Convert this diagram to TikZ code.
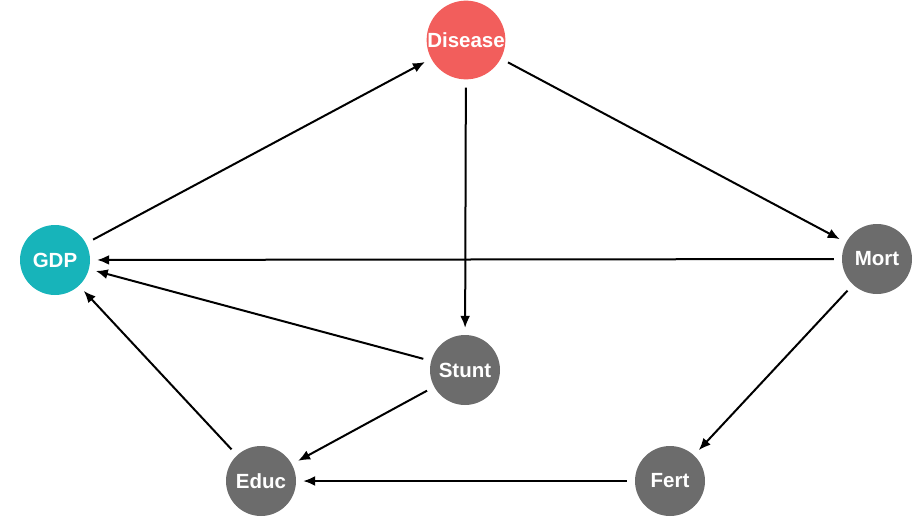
\documentclass[tikz,border=0pt]{standalone}
\usepackage{fontspec}
\setmainfont{Liberation Sans}
\usetikzlibrary{arrows.meta}
\definecolor{dagred}{RGB}{242,94,92}
\definecolor{dagteal}{RGB}{23,180,186}
\definecolor{daggrey}{RGB}{108,108,108}
\begin{document}
\begin{tikzpicture}[x=1pt,y=-1pt,
  var/.style={circle,fill=daggrey,minimum size=70pt,inner sep=0pt,text=white,font=\fontsize{20.5}{20.5}\selectfont\bfseries},
  edge/.style={line width=2pt,-{Latex[length=12pt,width=10pt]},shorten >=7pt,shorten <=8pt}]
\useasboundingbox (0,0) rectangle (918,517);

\node[var,fill=dagred] (disease) at (466,40) {Disease};
\node[var,fill=dagteal] (gdp) at (55,260) {GDP};
\node[var] (mort) at (877,259) {Mort};
\node[var] (stunt) at (465,370) {Stunt};
\node[var] (educ) at (261,481) {Educ};
\node[var] (fert) at (670,481) {Fert};

\draw[edge] (gdp) -- (disease);
\draw[edge] (disease) -- (mort);
\draw[edge] (disease) -- (stunt);
\draw[edge] (mort) -- (gdp);
\draw[edge] (stunt) -- (gdp);
\draw[edge] (stunt) -- (educ);
\draw[edge] (educ) -- (gdp);
\draw[edge] (mort) -- (fert);
\draw[edge] (fert) -- (educ);
\end{tikzpicture}
\end{document}
